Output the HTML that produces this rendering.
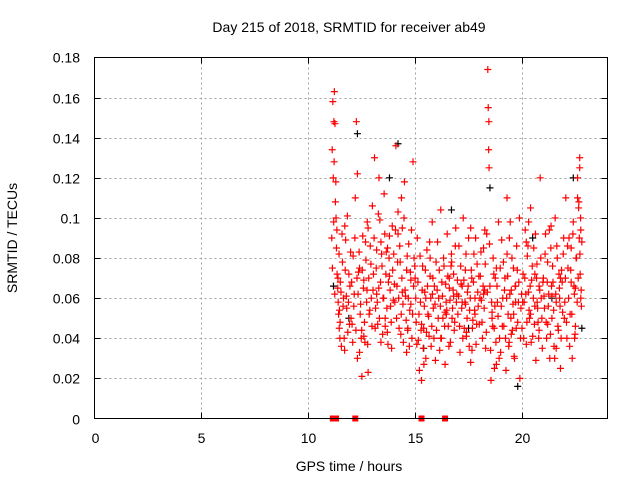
<!DOCTYPE html>
<html><head><meta charset="utf-8"><style>
html,body{margin:0;padding:0;background:#fff;}
svg{display:block;font-family:"Liberation Sans",sans-serif;}
</style></head><body>
<svg id="chart" width="640" height="480" viewBox="0 0 640 480" xmlns="http://www.w3.org/2000/svg">
<rect width="640" height="480" fill="#fff"/>
<text x="349" y="32" font-size="14" text-anchor="middle">Day 215 of 2018, SRMTID for receiver ab49</text>
<g id="grid"></g>
<g id="ticks"></g>
<g id="marks"></g>
<rect x="94.5" y="57.5" width="513" height="361" fill="none" stroke="#000" stroke-width="1"/>
<text x="349" y="471" font-size="14" text-anchor="middle">GPS time / hours</text>
<text transform="translate(17,238) rotate(-90)" font-size="14" text-anchor="middle">SRMTID / TECUs</text>
</svg>
<script>
const xTicks=[0,5,10,15,20];
const yTicks=[0,0.02,0.04,0.06,0.08,0.1,0.12,0.14,0.16,0.18];
const yTickLabels=["0","0.02","0.04","0.06","0.08","0.1","0.12","0.14","0.16","0.18"];
const gapTimes=[11.15,11.3,12.2,15.3,16.4];
const redTimes=[
11.10,11.12,11.15,11.17,11.2,11.22,11.25,11.27,11.3,11.32,11.35,11.38,11.4,11.42,11.45,11.48,11.5,11.55,11.6,11.65,11.7,11.75,11.8,11.85,11.9,11.95,
12.0,12.05,12.1,12.15,12.2,12.25,12.3,12.35,12.4,12.45,12.5,12.55,12.6,12.65,12.7,12.75,12.8,12.85,12.9,12.95,12.4,12.6,12.8,12.3,
13.0,13.05,13.1,13.15,13.2,13.25,13.3,13.35,13.4,13.45,13.5,13.55,13.6,13.65,13.7,13.75,13.8,13.85,13.9,13.95,13.2,13.4,13.6,13.8,
14.0,14.05,14.1,14.15,14.2,14.25,14.3,14.35,14.4,14.45,14.5,14.55,14.6,14.65,14.7,14.75,14.8,14.85,14.9,14.95,14.2,14.4,14.6,14.8,
15.0,15.05,15.1,15.15,15.2,15.25,15.3,15.35,15.4,15.45,15.5,15.55,15.6,15.65,15.7,15.75,15.8,15.85,15.9,15.95,15.3,15.5,15.7,
16.0,16.05,16.1,16.15,16.2,16.25,16.3,16.35,16.4,16.45,16.5,16.55,16.6,16.65,16.7,16.75,16.8,16.85,16.9,16.95,16.2,16.4,16.6,16.8,
17.0,17.05,17.1,17.15,17.2,17.25,17.3,17.35,17.4,17.45,17.5,17.55,17.6,17.65,17.7,17.75,17.8,17.85,17.9,17.95,17.2,17.4,17.6,17.8,
18.0,18.05,18.1,18.15,18.2,18.25,18.3,18.35,18.4,18.42,18.44,18.45,18.46,18.5,18.55,18.6,18.65,18.7,18.75,18.8,18.85,18.9,18.95,18.2,18.6,18.8,
19.0,19.05,19.1,19.15,19.2,19.25,19.3,19.35,19.4,19.45,19.5,19.55,19.6,19.65,19.7,19.75,19.8,19.85,19.9,19.95,19.3,19.5,19.7,
20.0,20.05,20.1,20.15,20.2,20.25,20.3,20.35,20.4,20.45,20.5,20.55,20.6,20.65,20.7,20.75,20.8,20.85,20.9,20.95,20.2,20.4,20.6,20.8,
21.0,21.05,21.1,21.15,21.2,21.25,21.3,21.35,21.4,21.45,21.5,21.55,21.6,21.65,21.7,21.75,21.8,21.85,21.9,21.95,21.2,21.4,21.6,21.8,
22.0,22.05,22.1,22.15,22.2,22.25,22.3,22.35,22.4,22.45,22.5,22.55,22.6,22.65,22.7,22.72,22.75,22.78,22.3,22.5,22.6,22.7,22.75];
const redValues=[
0.090,0.134,0.158,0.120,0.148,0.163,0.147,0.108,0.100,0.085,0.072,0.065,0.058,0.052,0.045,0.040,0.068,0.036,0.078,0.060,0.034,0.089,0.055,0.043,0.072,0.066,
0.050,0.047,0.081,0.062,0.110,0.148,0.122,0.073,0.033,0.057,0.044,0.091,0.069,0.038,0.079,0.064,0.023,0.052,0.086,0.060,0.075,0.041,0.095,0.030,
0.106,0.072,0.130,0.055,0.084,0.047,0.065,0.099,0.038,0.076,0.060,0.112,0.050,0.083,0.043,0.068,0.091,0.056,0.035,0.074,0.062,0.088,0.046,0.071,
0.082,0.058,0.136,0.066,0.103,0.045,0.078,0.052,0.095,0.038,0.118,0.061,0.074,0.044,0.087,0.054,0.069,0.040,0.128,0.080,0.092,0.063,0.033,0.057,
0.070,0.048,0.090,0.039,0.024,0.058,0.019,0.076,0.045,0.063,0.030,0.084,0.052,0.041,0.071,0.036,0.098,0.055,0.066,0.029,0.047,0.060,0.080,
0.044,0.088,0.060,0.034,0.104,0.068,0.050,0.076,0.027,0.058,0.092,0.046,0.065,0.038,0.082,0.055,0.072,0.048,0.095,0.062,0.040,0.053,0.070,0.061,
0.052,0.086,0.033,0.067,0.058,0.100,0.045,0.074,0.041,0.063,0.090,0.054,0.028,0.070,0.049,0.082,0.060,0.037,0.077,0.056,0.066,0.043,0.095,0.052,
0.047,0.071,0.059,0.040,0.085,0.064,0.035,0.092,0.174,0.155,0.134,0.148,0.125,0.066,0.019,0.053,0.080,0.045,0.070,0.027,0.058,0.098,0.040,0.062,0.050,0.075,
0.033,0.089,0.060,0.046,0.070,0.024,0.082,0.052,0.038,0.098,0.064,0.044,0.075,0.030,0.058,0.086,0.048,0.068,0.020,0.055,0.110,0.042,0.066,
0.045,0.072,0.058,0.094,0.037,0.081,0.063,0.050,0.105,0.069,0.041,0.085,0.056,0.029,0.077,0.048,0.066,0.120,0.060,0.035,0.088,0.052,0.072,0.044,
0.070,0.055,0.092,0.040,0.078,0.062,0.030,0.085,0.050,0.068,0.036,0.100,0.058,0.080,0.044,0.065,0.025,0.074,0.053,0.090,0.047,0.061,0.035,0.070,
0.058,0.110,0.040,0.075,0.090,0.052,0.068,0.030,0.098,0.062,0.046,0.080,0.120,0.105,0.130,0.072,0.094,0.056,0.085,0.065,0.110,0.125,0.060];
const redTimes2=[
11.13,11.19,11.24,11.29,11.34,11.39,11.44,11.49,11.53,11.58,11.63,11.68,11.73,11.78,11.83,11.88,11.93,11.98,11.21,11.46,11.71,
12.03,12.08,12.13,12.18,12.23,12.28,12.33,12.38,12.43,12.48,12.53,12.58,12.63,12.68,12.73,12.78,12.83,12.88,12.93,12.98,12.51,12.76,
13.03,13.08,13.13,13.18,13.23,13.28,13.33,13.38,13.43,13.48,13.53,13.58,13.63,13.68,13.73,13.78,13.83,13.88,13.93,13.98,13.31,13.71,
14.03,14.08,14.13,14.18,14.23,14.28,14.33,14.38,14.43,14.48,14.53,14.58,14.63,14.68,14.73,14.78,14.83,14.88,14.93,14.98,14.36,14.66,
15.03,15.08,15.13,15.18,15.23,15.28,15.33,15.38,15.43,15.48,15.53,15.58,15.63,15.68,15.73,15.78,15.83,15.88,15.93,15.98,15.41,15.81,
16.03,16.08,16.13,16.18,16.23,16.28,16.33,16.38,16.43,16.48,16.53,16.58,16.63,16.68,16.73,16.78,16.83,16.88,16.93,16.98,16.46,16.71,
17.03,17.08,17.13,17.18,17.23,17.28,17.33,17.38,17.43,17.48,17.53,17.58,17.63,17.68,17.73,17.78,17.83,17.88,17.93,17.98,17.36,17.66,
18.03,18.08,18.13,18.18,18.23,18.28,18.33,18.38,18.48,18.53,18.58,18.63,18.68,18.73,18.78,18.83,18.88,18.93,18.98,18.26,18.71,
19.03,19.08,19.13,19.18,19.23,19.28,19.33,19.38,19.43,19.48,19.53,19.58,19.63,19.68,19.73,19.78,19.83,19.88,19.93,19.98,19.41,19.61,
20.03,20.08,20.13,20.18,20.23,20.28,20.33,20.38,20.43,20.48,20.53,20.58,20.63,20.68,20.73,20.78,20.83,20.88,20.93,20.98,20.31,20.71,
21.03,21.08,21.13,21.18,21.23,21.28,21.33,21.38,21.43,21.48,21.53,21.58,21.63,21.68,21.73,21.78,21.83,21.88,21.93,21.98,21.36,21.76,
22.03,22.08,22.13,22.18,22.23,22.28,22.33,22.38,22.43,22.48,22.53,22.58,22.63,22.68,22.71,22.74,22.77,22.8,22.46,22.66];
const redValues2=[
0.075,0.098,0.062,0.118,0.094,0.070,0.082,0.048,0.063,0.092,0.056,0.040,0.074,0.061,0.101,0.058,0.047,0.083,0.128,0.054,0.096,
0.068,0.038,0.056,0.090,0.044,0.070,0.062,0.083,0.052,0.040,0.074,0.065,0.048,0.088,0.058,0.037,0.070,0.054,0.077,0.046,0.021,0.098,
0.064,0.090,0.045,0.075,0.058,0.102,0.050,0.068,0.082,0.042,0.060,0.092,0.072,0.055,0.037,0.080,0.064,0.048,0.096,0.059,0.120,0.085,
0.067,0.094,0.050,0.078,0.060,0.086,0.042,0.070,0.057,0.100,0.064,0.049,0.081,0.060,0.036,0.073,0.094,0.052,0.066,0.076,0.110,0.045,
0.060,0.037,0.068,0.052,0.081,0.044,0.064,0.035,0.056,0.074,0.043,0.066,0.051,0.088,0.060,0.046,0.070,0.040,0.057,0.078,0.027,0.062,
0.064,0.050,0.074,0.056,0.040,0.061,0.080,0.046,0.067,0.054,0.071,0.036,0.059,0.076,0.050,0.064,0.044,0.086,0.058,0.069,0.052,0.078,
0.061,0.046,0.076,0.055,0.040,0.069,0.058,0.082,0.050,0.066,0.036,0.060,0.074,0.045,0.068,0.054,0.090,0.047,0.063,0.071,0.057,0.034,
0.060,0.083,0.048,0.066,0.055,0.077,0.043,0.063,0.087,0.034,0.058,0.046,0.072,0.056,0.038,0.066,0.051,0.030,0.075,0.094,0.025,
0.056,0.046,0.078,0.064,0.040,0.060,0.071,0.036,0.062,0.050,0.080,0.057,0.031,0.066,0.045,0.074,0.058,0.100,0.040,0.062,0.090,0.052,
0.058,0.040,0.070,0.062,0.048,0.086,0.054,0.066,0.038,0.076,0.060,0.047,0.092,0.070,0.055,0.040,0.064,0.080,0.050,0.068,0.098,0.058,
0.061,0.082,0.048,0.068,0.056,0.094,0.042,0.066,0.076,0.054,0.030,0.062,0.086,0.046,0.072,0.056,0.040,0.068,0.082,0.050,0.096,0.060,
0.070,0.048,0.086,0.060,0.036,0.074,0.052,0.092,0.066,0.042,0.080,0.058,0.070,0.090,0.082,0.100,0.064,0.088,0.040,0.108];
const blackTimes=[11.18,11.9,12.3,13.8,14.2,15.4,16.7,17.5,18.5,19.8,20.5,21.4,22.4,22.8];
const blackValues=[0.066,0.050,0.142,0.120,0.137,0.035,0.104,0.045,0.115,0.016,0.090,0.060,0.120,0.045];

const X0=94.5,X1=607.5,Y0=418.5,Y1=57.5,XMAX=24,YMAX=0.18;
const xs=t=>X0+(X1-X0)*t/XMAX;
const ys=v=>Y0-(Y0-Y1)*v/YMAX;
const NS='http://www.w3.org/2000/svg';
function mk(tag,attrs,parent){const e=document.createElementNS(NS,tag);for(const k in attrs)e.setAttribute(k,attrs[k]);parent.appendChild(e);return e;}
const grid=document.getElementById('grid'),ticks=document.getElementById('ticks'),marks=document.getElementById('marks');
xTicks.forEach((t,i)=>{const x=Math.round(xs(t))+0.5;
 if(t>0){const g=mk('line',{x1:x,x2:x,y1:Y1,y2:Y0,stroke:'#a0a0a0','stroke-dasharray':'2,3'},grid);
 
 
 mk('line',{x1:x,x2:x,y1:Y0,y2:Y0-6,stroke:'#000'},ticks);
 mk('line',{x1:x,x2:x,y1:Y1,y2:Y1+6,stroke:'#000'},ticks);}
 const l=mk('text',{x:x,y:443,'font-size':14,'text-anchor':'middle'},ticks);l.textContent=t;
 
 });
yTicks.forEach((v,i)=>{const y=Math.round(ys(v))+0.5;
 if(v>0&&v<YMAX){const g=mk('line',{x1:X0,x2:X1,y1:y,y2:y,stroke:'#a0a0a0','stroke-dasharray':'2,3'},grid);
 
 
 mk('line',{x1:X0,x2:X0+6,y1:y,y2:y,stroke:'#000'},ticks);
 mk('line',{x1:X1,x2:X1-6,y1:y,y2:y,stroke:'#000'},ticks);}
 const l=mk('text',{x:80,y:y+5,'font-size':14,'text-anchor':'end'},ticks);l.textContent=yTickLabels[i];
 
 });
function plus(t,v,c){const x=xs(t),y=ys(v);
 const p=mk('path',{d:`M${x-3.5},${y}h7M${x},${y-3.5}v7`,stroke:c,'stroke-width':1.2,fill:'none'},marks);
 
 }
blackTimes.forEach((t,i)=>plus(t,blackValues[i],'#000'));
redTimes.forEach((t,i)=>plus(t,redValues[i],'#f00'));
redTimes2.forEach((t,i)=>plus(t,redValues2[i],'#f00'));
gapTimes.forEach(t=>{const r=mk('rect',{x:xs(t)-3,y:Y0-3,width:6,height:6,fill:'#f00'},marks);
 
 });
</script>
</body></html>
